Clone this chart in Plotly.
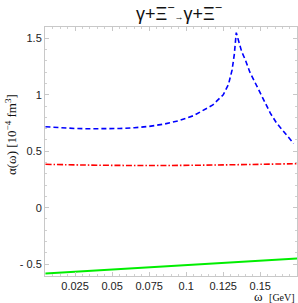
import plotly.graph_objects as go

# Data
omega_blue = [0.005, 0.015, 0.025, 0.035, 0.045, 0.055, 0.065, 0.075, 0.085, 0.095,
              0.105, 0.112, 0.118, 0.125, 0.1285, 0.131, 0.1325, 0.1338, 0.1355,
              0.1375, 0.1399, 0.143, 0.1478, 0.152, 0.1568, 0.161, 0.1657, 0.1725]
alpha_blue = [0.717, 0.707, 0.701, 0.699, 0.699, 0.701, 0.708, 0.72, 0.74, 0.77,
              0.815, 0.865, 0.91, 1.0, 1.09, 1.22, 1.36, 1.55, 1.46,
              1.38, 1.31, 1.2, 1.074, 0.96, 0.837, 0.75, 0.672, 0.569]

omega_red = [0.005, 0.03, 0.06, 0.09, 0.12, 0.15, 0.175]
alpha_red = [0.384, 0.378, 0.374, 0.374, 0.378, 0.384, 0.39]

omega_green = [0.005, 0.175]
alpha_green = [-0.583, -0.45]

x_ticks = [0.025, 0.05, 0.075, 0.1, 0.125, 0.15]
x_tick_labels = ["0.025", "0.05", "0.075", "0.1", "0.125", "0.15"]
y_ticks = [-0.5, 0, 0.5, 1, 1.5]
y_tick_labels = ["- 0.5", "0", "0.5", "1", "1.5"]

fig = go.Figure()
fig.add_trace(go.Scatter(x=omega_blue, y=alpha_blue, mode="lines",
                         line=dict(color="#0000ff", width=1.6, dash="5px,3px"),
                         line_shape="linear"))
fig.add_trace(go.Scatter(x=omega_red, y=alpha_red, mode="lines",
                         line=dict(color="#ff0000", width=1.6, dash="6px,2px,1.5px,2px"),
                         line_shape="spline"))
fig.add_trace(go.Scatter(x=omega_green, y=alpha_green, mode="lines",
                         line=dict(color="#00ee00", width=1.8)))

axis_common = dict(showgrid=False, zeroline=False, showline=True, linecolor="#c8c8c8",
                   linewidth=1, mirror="ticks", ticks="inside", tickcolor="#c8c8c8",
                   ticklen=4, automargin=False,
                   tickfont=dict(family="Liberation Sans", size=11, color="#222"))

fig.update_xaxes(range=[0.0047, 0.1748], tickvals=x_ticks, ticktext=x_tick_labels,
                 minor=dict(dtick=0.005, tick0=0, ticks="inside", ticklen=2, tickcolor="#d0d0d0"),
                 **axis_common)
fig.update_yaxes(range=[-0.605, 1.6], tickvals=y_ticks, ticktext=y_tick_labels,
                 minor=dict(dtick=0.1, tick0=0, ticks="inside", ticklen=2, tickcolor="#d0d0d0"),
                 **axis_common)

fig.update_layout(
    width=298, height=303,
    margin=dict(l=45, r=1, t=27, b=27, autoexpand=False),
    paper_bgcolor="white", plot_bgcolor="white",
    showlegend=False,
    annotations=[
        dict(text="γ+Ξ<sup>−</sup><span style='font-size:9px'>→</span>γ+Ξ<sup>−</sup>",
             xref="paper", yref="paper", x=0.53, y=1.0, yshift=15, xanchor="center",
             yanchor="middle", showarrow=False,
             font=dict(family="Liberation Sans", size=18, color="#111")),
        dict(text="α(ω) [10<sup>−4</sup> fm<sup>3</sup>]",
             xref="paper", yref="paper", x=0, xshift=-34, y=0.566, textangle=-90,
             xanchor="center", yanchor="middle", showarrow=False,
             font=dict(family="Liberation Serif", size=13, color="#111")),
        dict(text="ω  <span style='font-size:10px'>[GeV]</span>",
             xref="paper", yref="paper", x=1.0, y=0, yshift=-20, xanchor="right",
             yanchor="middle", showarrow=False,
             font=dict(family="Liberation Serif", size=13, color="#111")),
    ],
)

fig.write_html("out.html", config={"displayModeBar": False},
               post_script="document.body.style.margin='0';document.body.style.overflow='hidden';")
